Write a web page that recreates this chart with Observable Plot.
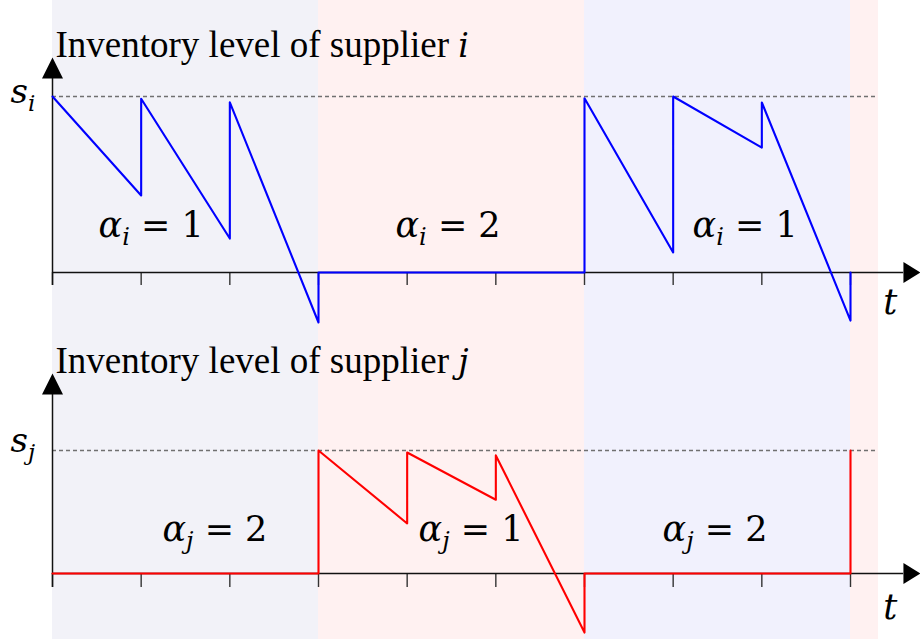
<!DOCTYPE html>
<html>
<head>
<meta charset="utf-8">
<script src="https://cdn.jsdelivr.net/npm/d3@7"></script>
<script src="https://cdn.jsdelivr.net/npm/@observablehq/plot@0.6"></script>
<style>
  body { margin: 0; background: #fff; }
  #chart { width: 920px; height: 639px; overflow: hidden; }
  #chart svg { display: block; }
</style>
</head>
<body>
<div id="chart"></div>
<script>
// Time axis ticks (one per period)
const timeTicks = [0, 1, 2, 3, 4, 5, 6, 7, 8, 9];

// Shaded periods along t
const periodStart = [0, 3, 6, 9];
const periodEnd = [3, 6, 9, 9.315];

// Inventory level of supplier i (fraction of s_i)
const timeI = [0, 1, 1, 2, 2, 3, 3, 6, 6, 7, 7, 8, 8, 9, 9];
const levelI = [1.0, 0.4375, 0.987, 0.193, 0.967, -0.284, 0, 0, 0.99, 0.114, 1.0, 0.71, 0.966, -0.273, 0];

// Inventory level of supplier j (fraction of s_j)
const timeJ = [0, 3, 3, 4, 4, 5, 5, 6, 6, 9, 9];
const levelJ = [0, 0, 1.0, 0.407, 0.984, 0.60, 0.96, -0.48, 0, 0, 1.0];

// alpha labels per period
const alphaPosI = [0.519, 3.868, 7.218];
const alphaValI = [1, 2, 1];
const alphaPosJ = [1.24, 4.128, 6.88];
const alphaValJ = [2, 1, 2];

const periodFill = ["#f2f2f8", "#fff1f1", "#f1f1fd", "#fff1f1"];
const mathFont = "DejaVu Serif";
const textFont = "Liberation Serif";

const arrowUp = {
  draw(ctx) { ctx.moveTo(0, 0); ctx.lineTo(-10.5, 21); ctx.lineTo(10.5, 21); ctx.closePath(); }
};
const arrowRight = {
  draw(ctx) { ctx.moveTo(0, 0); ctx.lineTo(-17, -10.5); ctx.lineTo(-17, 10.5); ctx.closePath(); }
};

function panel(cfg) {
  const pts = cfg.time.map((t, i) => ({t, v: cfg.level[i]}));
  const periods = periodStart.map((s, i) => ({s, e: periodEnd[i], k: i}));
  const svg = Plot.plot({
    width: 920,
    height: cfg.height,
    marginTop: 0, marginBottom: 0, marginLeft: 0, marginRight: 0,
    x: {domain: [0, 9], range: [52, 850], axis: null},
    y: {domain: [0, 1], range: cfg.yRange, axis: null},
    marks: [
      Plot.rect(periods, {x1: "s", x2: "e", fill: d => periodFill[d.k]}),
      Plot.ruleY([1], {x1: 0, x2: 9.315, stroke: "#707070", strokeWidth: 1.4, strokeDasharray: "4,3"}),
      Plot.ruleX(timeTicks, {y1: 0, y2: cfg.tickEnd, stroke: "#333", strokeWidth: 1.4}),
      Plot.ruleY([0], {x1: 0, x2: 9.6, stroke: "#111", strokeWidth: 1.5}),
      Plot.ruleX([0], {y1: cfg.tickEnd, y2: cfg.arrowBase, stroke: "#111", strokeWidth: 1.5}),
      Plot.dot([0], {x: d => d, y: cfg.arrowTip, symbol: arrowUp, fill: "black", stroke: "none"}),
      Plot.dot([9.789], {x: d => d, y: 0, symbol: arrowRight, fill: "black", stroke: "none"}),
      Plot.line(pts, {x: "t", y: "v", stroke: cfg.color, strokeWidth: 2.1}),
      // text marks, in this order: title, level label, time label, alpha labels
      Plot.text([0.034], {x: d => d, y: cfg.titleY, text: () => "Inventory level of supplier ",
        fontFamily: textFont, fontSize: 37, textAnchor: "start", lineAnchor: "bottom", fill: "black"}),
      Plot.text([0], {x: d => d, y: 1, text: () => "s", dx: -42, dy: cfg.sDy,
        fontFamily: mathFont, fontSize: 34, fontStyle: "italic", textAnchor: "start",
        lineAnchor: "bottom", fill: "black"}),
      Plot.text([9.45], {x: d => d, y: 0, text: () => "t", dy: cfg.tDy,
        fontFamily: mathFont, fontSize: 35, fontStyle: "italic", textAnchor: "middle",
        lineAnchor: "bottom", fill: "black"}),
      Plot.text(cfg.alphaPos, {x: d => d, y: cfg.alphaY, text: () => "α",
        fontFamily: mathFont, fontSize: 35, fontStyle: "italic", textAnchor: "start",
        lineAnchor: "bottom", fill: "black"})
    ]
  });
  const groups = d3.select(svg).selectAll('g[aria-label="text"]').nodes();
  const [gTitle, gLevel, , gAlpha] = groups;
  d3.select(gTitle).select("text")
    .append("tspan").attr("font-family", mathFont).attr("font-size", 33)
    .style("font-style", "italic").text(cfg.sub);
  d3.select(gLevel).select("text")
    .append("tspan").attr("font-size", 23).attr("dy", 8).text(cfg.sub);
  d3.select(gAlpha).selectAll("text").each(function(_, i) {
    const t = d3.select(this);
    t.append("tspan").attr("font-size", 24).attr("dy", 8).text(cfg.sub);
    t.append("tspan").attr("dy", -8).style("font-style", "normal")
      .text(" = " + cfg.alphaVal[i]);
  });
  return svg;
}

const chart = document.getElementById("chart");
chart.appendChild(panel({
  height: 339, yRange: [272, 96], color: "#0000ff", time: timeI, level: levelI,
  sub: "i", tickEnd: -0.074, arrowBase: 1.102, arrowTip: 1.222, titleY: 1.222,
  sDy: 6, tDy: 41, alphaPos: alphaPosI, alphaVal: alphaValI, alphaY: 0.199
}));
chart.appendChild(panel({
  height: 300, yRange: [234, 111], color: "#ff0000", time: timeJ, level: levelJ,
  sub: "j", tickEnd: -0.114, arrowBase: 1.455, arrowTip: 1.626, titleY: 1.634,
  sDy: 1, tDy: 45, alphaPos: alphaPosJ, alphaVal: alphaValJ, alphaY: 0.268
}));
</script>
</body>
</html>
